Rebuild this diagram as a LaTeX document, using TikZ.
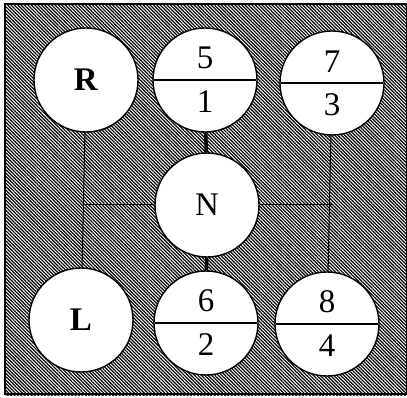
\documentclass[tikz,border=0pt]{standalone}
\usepackage{fontspec}
\setmainfont{Liberation Serif}
\usepackage{tikz}
\usetikzlibrary{shapes.multipart, patterns.meta}

\begin{document}
\begin{tikzpicture}[x=1pt, y=-1pt,
  every node/.style={font=\fontsize{33}{36}\selectfont},
  gearpos/.style={circle, draw, line width=1.4pt, fill=white,
                  minimum size=104pt, inner sep=0pt},
  twin/.style={gearpos, circle split, inner ysep=10pt},
  rod/.style={line width=1pt},
  stub/.style={line width=3.5pt}
]
\useasboundingbox (0,0) rectangle (407,398);
% hatched plate
\fill[pattern={Lines[angle=-45, distance=2.4pt, line width=1.2pt]}]
     (5,4) rectangle (407,395);
\draw[line width=1.5pt] (5,4) rectangle (406.5,394);
% gate positions
\node[gearpos] (R) at (86,80)  {\textbf{R}};
\node[twin]  (g51) at (205,80)  {5 \nodepart{lower} 1};
\node[twin]  (g73) at (332,83)  {7 \nodepart{lower} 3};
\node[gearpos] (N) at (207,205) {N};
\node[gearpos] (L) at (81,320)  {\textbf{L}};
\node[twin]  (g62) at (206,323) {6 \nodepart{lower} 2};
\node[twin]  (g84) at (327,324) {8 \nodepart{lower} 4};
% shift rails
\draw[rod] (R) -- (L);
\draw[rod] (g73) -- (g84);
\draw[rod] (N.west) -- (N.west -| R.south);
\draw[rod] (N.east) -- (N.east -| g73.south);
\draw[stub] (g51) -- (N);
\draw[stub] (N) -- (g62);
\end{tikzpicture}
\end{document}
